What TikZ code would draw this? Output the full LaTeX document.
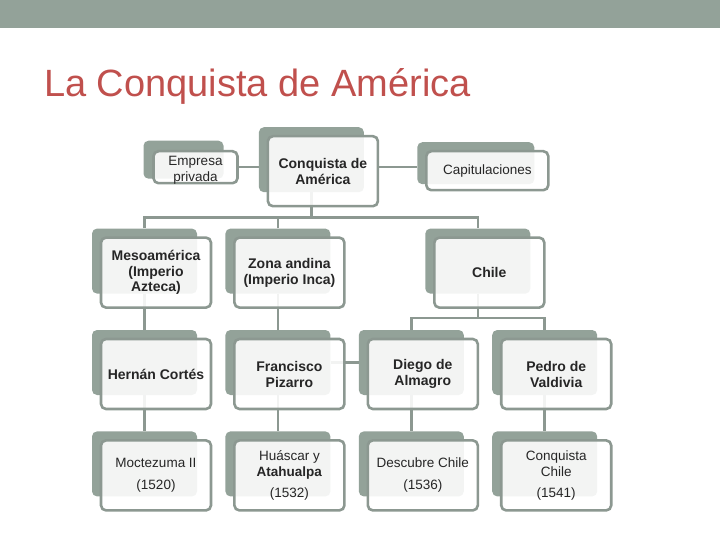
\documentclass[tikz,border=0pt]{standalone}
\usepackage{fontspec}
\setmainfont{Liberation Sans}
\usetikzlibrary{positioning,calc,backgrounds}

\definecolor{banda}{HTML}{93A299}
\definecolor{gris}{HTML}{93A299}
\definecolor{borde}{HTML}{8C9891}
\definecolor{titulo}{HTML}{C0504D}
\definecolor{texto}{HTML}{262626}

\begin{document}
\begin{tikzpicture}[x=1pt, y=1pt]
        \tikzset{sombra/.style={rectangle, rounded corners=5pt, fill=gris, minimum width=105pt, minimum height=65pt, inner sep=0pt}, frente/.style={rectangle, rounded corners=5pt, draw=borde, line width=2.6pt, fill=white, fill opacity=0.89, text opacity=1, text=texto, align=center, minimum width=110pt, minimum height=70pt, inner sep=1pt, font=\fontsize{13.5}{16}\selectfont}, negrita/.style={frente, font=\fontsize{14}{16}\selectfont\bfseries}, linea/.style={draw=borde, line width=2.6pt}}
        \useasboundingbox (0,0) rectangle (720,-540);
        \fill[banda] (0,0) rectangle (720,-28);
        \node[anchor=base west, inner sep=0pt, text=titulo, font=\fontsize{38}{40}\selectfont] (titulo) at (44,-97) {La Conquista de América};
        % sombras
        \node[sombra] (cortes-s) at (144.5,-362.5) {};
        \node[sombra, right=28pt of cortes-s] (pizarro-s) {};
        \node[sombra, right=28pt of pizarro-s] (almagro-s) {};
        \node[sombra, right=28pt of almagro-s] (pedro-s) {};
        \node[sombra, below=36pt of cortes-s] (moctezuma-s) {};
        \node[sombra, below=36pt of pizarro-s] (huascar-s) {};
        \node[sombra, below=36pt of almagro-s] (descubre-s) {};
        \node[sombra, below=36pt of pedro-s] (conqchile-s) {};
        \node[sombra, above=36pt of cortes-s] (meso-s) {};
        \node[sombra, above=36pt of pizarro-s] (zona-s) {};
        \node[sombra, above=36pt of almagro-s, xshift=66.5pt] (chile-s) {};
        \node[sombra, above=36pt of zona-s, xshift=33.5pt] (conq-s) {};
        \node[sombra, minimum width=80pt, minimum height=38pt, left=35pt of conq-s] (empresa-s) {};
        \node[sombra, minimum width=117pt, minimum height=42pt, right=53pt of conq-s, yshift=-3.5pt] (capit-s) {};
        % cajas
        \node[negrita] (conq) at ($(conq-s)+(11.5,-11.5)$) {Conquista de\\América};
        \node[frente, minimum width=84pt, minimum height=32pt, inner sep=0pt, text height=29pt, text depth=0pt] (empresa) at ($(empresa-s)+(12,-7.5)$) {Empresa\\privada};
        \node[frente, minimum width=122pt, minimum height=39pt] (capit) at ($(capit-s)+(11.5,-7.5)$) {Capitulaciones};
        \node[negrita, font=\fontsize{14}{15.5}\selectfont\bfseries] (meso) at ($(meso-s)+(11.5,-11.5)$) {Mesoamérica\\(Imperio\\Azteca)};
        \node[negrita] (zona) at ($(zona-s)+(11.5,-11.5)$) {Zona andina\\(Imperio Inca)};
        \node[negrita] (chile) at ($(chile-s)+(11.5,-11.5)$) {Chile};
        \node[negrita] (cortes) at ($(cortes-s)+(11.5,-11.5)$) {Hernán Cortés};
        \node[negrita] (pizarro) at ($(pizarro-s)+(11.5,-11.5)$) {Francisco\\Pizarro};
        \node[negrita] (almagro) at ($(almagro-s)+(11.5,-11.5)$) {Diego de\\Almagro};
        \node[negrita] (pedro) at ($(pedro-s)+(11.5,-11.5)$) {Pedro de\\Valdivia};
        \node[frente] (moctezuma) at ($(moctezuma-s)+(11.5,-11.5)$) {Moctezuma II\\[6pt](1520)};
        \node[frente] (huascar) at ($(huascar-s)+(11.5,-11.5)$) {Huáscar y\\\textbf{Atahualpa}\\[5pt](1532)};
        \node[frente] (descubre) at ($(descubre-s)+(11.5,-11.5)$) {Descubre Chile\\[6pt](1536)};
        \node[frente] (conqchile) at ($(conqchile-s)+(11.5,-11.5)$) {Conquista\\Chile\\[5pt](1541)};
        % lineas
        \begin{scope}[on background layer]
            \coordinate (bus1) at ($(meso-s.north)+(0,11)$);
            \coordinate (bus2) at ($(almagro-s.north)+(0,12)$);
            \draw[linea] (empresa.east) -- (empresa.east -| conq-s.west);
            \draw[linea] ([yshift=4pt]conq.east) -- ([yshift=4pt]conq.east -| capit-s.west);
            \draw[linea] (conq-s) -- (conq-s |- bus1);
            \draw[linea] (meso-s) -- (meso-s |- bus1) -- (chile-s |- bus1) -- (chile-s);
            \draw[linea] (zona-s) -- (zona-s |- bus1);
            \draw[linea] (meso-s) -- (cortes-s);
            \draw[linea] (zona-s) -- (pizarro-s);
            \draw[linea] (pizarro-s) -- (almagro-s);
            \draw[linea] (chile-s) -- (chile-s |- bus2);
            \draw[linea] (almagro-s) -- (almagro-s |- bus2) -- (pedro-s |- bus2) -- (pedro-s);
            \draw[linea] (cortes-s) -- (moctezuma-s);
            \draw[linea] (pizarro-s) -- (huascar-s);
            \draw[linea] (almagro-s) -- (descubre-s);
            \draw[linea] (pedro-s) -- (conqchile-s);
        \end{scope}
\end{tikzpicture}
\end{document}
